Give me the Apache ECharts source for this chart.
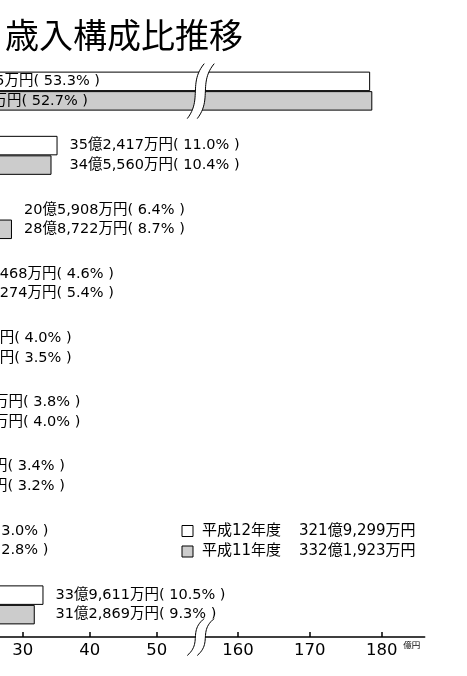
<!DOCTYPE html>
<html>
<head>
<meta charset="utf-8">
<script src="https://cdn.jsdelivr.net/npm/echarts@6/dist/echarts.min.js"></script>
<style>
html, body { margin: 0; padding: 0; background: #fff; }
#chart { width: 467px; height: 676px; }
</style>
</head>
<body>
<div id="chart"></div>
<script>
// 項目（左側は図の外で見えない）
const categories = ['市税', '国庫支出金', '市債', '地方交付税', '県支出金', '繰越金', '諸収入', '地方消費税交付金', 'その他'];
// 棒の長さ（億円）
const h12Values = [178.4, 35.2, 20.6, 14.8, 11.5, 12.2, 10.5, 9.4, 33.1];
const h11Values = [178.7, 34.3, 28.4, 17.8, 10.1, 12.8, 10.2, 9.0, 31.8];
const h12Labels = ['171億6,135万円( 53.3% )', '35億2,417万円( 11.0% )', '20億5,908万円( 6.4% )', '14億8,468万円( 4.6% )',
  '12億8,736万円( 4.0% )', '12億2,341万円( 3.8% )', '10億9,524万円( 3.4% )', '9億6,547万円( 3.0% )', '33億9,611万円( 10.5% )'];
const h11Labels = ['175億0,372万円( 52.7% )', '34億5,560万円( 10.4% )', '28億8,722万円( 8.7% )', '17億9,274万円( 5.4% )',
  '11億6,213万円( 3.5% )', '13億2,876万円( 4.0% )', '10億6,305万円( 3.2% )', '9億3,014万円( 2.8% )', '31億2,869万円( 9.3% )'];
const seriesNames = ['平成12年度', '平成11年度'];
const totals = ['321億9,299万円', '332億1,923万円'];
const leftTicks = [0, 10, 20, 30, 40, 50];
const rightTicks = [160, 170, 180];
const leftRange = [0, 56.5];
const rightRange = [154.9, 186];

const font = '"DejaVu Sans", "Noto Sans CJK JP", sans-serif';
const colors = ['#ffffff', '#cccccc'];

const chart = echarts.init(document.getElementById('chart'));

const gridTop = 59, gridHeight = 578;
const leftGrid = { left: -178.3, top: gridTop, width: 56.5 * 6.7, height: gridHeight, outerBoundsMode: 'none', containLabel: false };
const rightGrid = { left: 201.5, top: gridTop, width: 223.2, height: gridHeight, outerBoundsMode: 'none', containLabel: false };

const axisBase = {
  type: 'value',
  splitLine: { show: false },
  axisLine: { show: true, onZero: false, lineStyle: { color: '#000', width: 1.5 } },
  axisLabel: { color: '#000', fontFamily: font, fontSize: 16.5, margin: 5 }
};

const yAxisBase = { type: 'category', data: categories, inverse: true, show: false };

const rowMax = h12Values.map((v, i) => Math.max(v, h11Values[i]));

const barBase = {
  type: 'bar',
  barWidth: 19.5,
  barGap: '0%',
  clip: true,
  silent: true
};

function valueSeries(k, axisIdx) {
  const vals = k === 0 ? h12Values : h11Values;
  const labels = k === 0 ? h12Labels : h11Labels;
  return Object.assign({}, barBase, {
    name: seriesNames[k],
    xAxisIndex: axisIdx,
    yAxisIndex: axisIdx,
    itemStyle: { color: colors[k], borderColor: '#000', borderWidth: 1 },
    data: vals.map((v, i) => {
      if (axisIdx === 0 && v > leftRange[1]) {
        return {
          value: v,
          label: {
            show: true, position: 'insideLeft', distance: k === 0 ? 99 : 87,
            formatter: labels[i], color: '#000', fontFamily: font, fontSize: 14.5
          }
        };
      }
      return v;
    })
  });
}

function labelSeries(k) {
  const labels = k === 0 ? h12Labels : h11Labels;
  return Object.assign({}, barBase, {
    name: 'label' + k,
    xAxisIndex: 2,
    yAxisIndex: 2,
    itemStyle: { color: 'rgba(0,0,0,0)' },
    data: rowMax.map(v => (v < leftRange[1] ? v : '-')),
    label: {
      show: true, position: 'right', distance: 12,
      formatter: p => labels[p.dataIndex],
      color: '#000', fontFamily: font, fontSize: 14.5
    }
  });
}

chart.setOption({
  animation: false,
  backgroundColor: '#fff',
  title: {
    text: '歳入構成比推移',
    left: 5, top: 18, padding: 0,
    textStyle: { fontFamily: '"Noto Sans CJK JP", sans-serif', fontSize: 34, fontWeight: 'normal', color: '#000' }
  },
  legend: {
    data: seriesNames,
    orient: 'vertical',
    left: 181.5, top: 523.5,
    padding: 0,
    itemWidth: 11, itemHeight: 11, itemGap: 5.5,
    icon: 'rect',
    selectedMode: false,
    itemStyle: { borderWidth: 1, borderColor: '#000' },
    formatter: name => '{n|' + name + '}{v|' + totals[seriesNames.indexOf(name)] + '}',
    textStyle: {
      fontFamily: font, fontSize: 15, color: '#000', lineHeight: 15,
      rich: {
        n: { width: 97, fontFamily: font, fontSize: 15, lineHeight: 15, padding: [0, 0, 0, 4] },
        v: { fontFamily: font, fontSize: 15, lineHeight: 15 }
      }
    }
  },
  grid: [leftGrid, rightGrid, leftGrid],
  xAxis: [
    Object.assign({}, axisBase, {
      gridIndex: 0, min: leftRange[0], max: leftRange[1],
      axisTick: { show: true, inside: true, length: 5, lineStyle: { color: '#000', width: 1.5 }, customValues: leftTicks },
      axisLabel: Object.assign({}, axisBase.axisLabel, { customValues: leftTicks })
    }),
    Object.assign({}, axisBase, {
      gridIndex: 1, min: rightRange[0], max: rightRange[1],
      name: '億円', nameLocation: 'end', nameGap: -23,
      nameTextStyle: { fontFamily: '"Noto Sans CJK JP", sans-serif', fontSize: 8.5, color: '#000', verticalAlign: 'top', padding: [4, 0, 0, 0] },
      axisTick: { show: true, inside: true, length: 5, lineStyle: { color: '#000', width: 1.5 }, customValues: rightTicks },
      axisLabel: Object.assign({}, axisBase.axisLabel, { customValues: rightTicks })
    }),
    { type: 'value', gridIndex: 2, min: leftRange[0], max: leftRange[1], show: false }
  ],
  yAxis: [
    Object.assign({ gridIndex: 0 }, yAxisBase),
    Object.assign({ gridIndex: 1 }, yAxisBase),
    Object.assign({ gridIndex: 2 }, yAxisBase)
  ],
  series: [
    valueSeries(0, 0), valueSeries(1, 0),
    valueSeries(0, 1), valueSeries(1, 1),
    labelSeries(0), labelSeries(1)
  ]
});

// 省略記号（波線）
function curvePoints(cx, cy, h, off) {
  const t = cy - h / 2;
  const p = [[cx + 8, t], [cx - 8, t + 0.35 * h], [cx + 6, t + 0.65 * h], [cx - 9, t + h]];
  const pts = [];
  for (let i = 0; i <= 24; i++) {
    const s = i / 24, u = 1 - s;
    const a = u * u * u, b = 3 * u * u * s, c = 3 * u * s * s, d = s * s * s;
    pts.push([a * p[0][0] + b * p[1][0] + c * p[2][0] + d * p[3][0] + off,
              a * p[0][1] + b * p[1][1] + c * p[2][1] + d * p[3][1]]);
  }
  return pts;
}
function breakMark(cx, cy, h) {
  const gap = 10;
  const a = curvePoints(cx, cy, h, 0);
  const b = curvePoints(cx, cy, h, gap);
  return [
    { type: 'polygon', shape: { points: a.concat(b.slice().reverse()) }, style: { fill: '#fff' }, z: 100, silent: true },
    { type: 'polyline', shape: { points: a }, style: { stroke: '#000', lineWidth: 1, fill: null }, z: 101, silent: true },
    { type: 'polyline', shape: { points: b }, style: { stroke: '#000', lineWidth: 1, fill: null }, z: 101, silent: true }
  ];
}
const xL = chart.convertToPixel({ xAxisIndex: 0 }, leftRange[1]);
const cx = xL - 4;
const yTopRow = chart.convertToPixel({ yAxisIndex: 0 }, categories[0]);
const yAxisLine = gridTop + gridHeight;
chart.setOption({ graphic: breakMark(cx, yTopRow, 55).concat(breakMark(cx, yAxisLine, 37)) });
</script>
</body>
</html>
